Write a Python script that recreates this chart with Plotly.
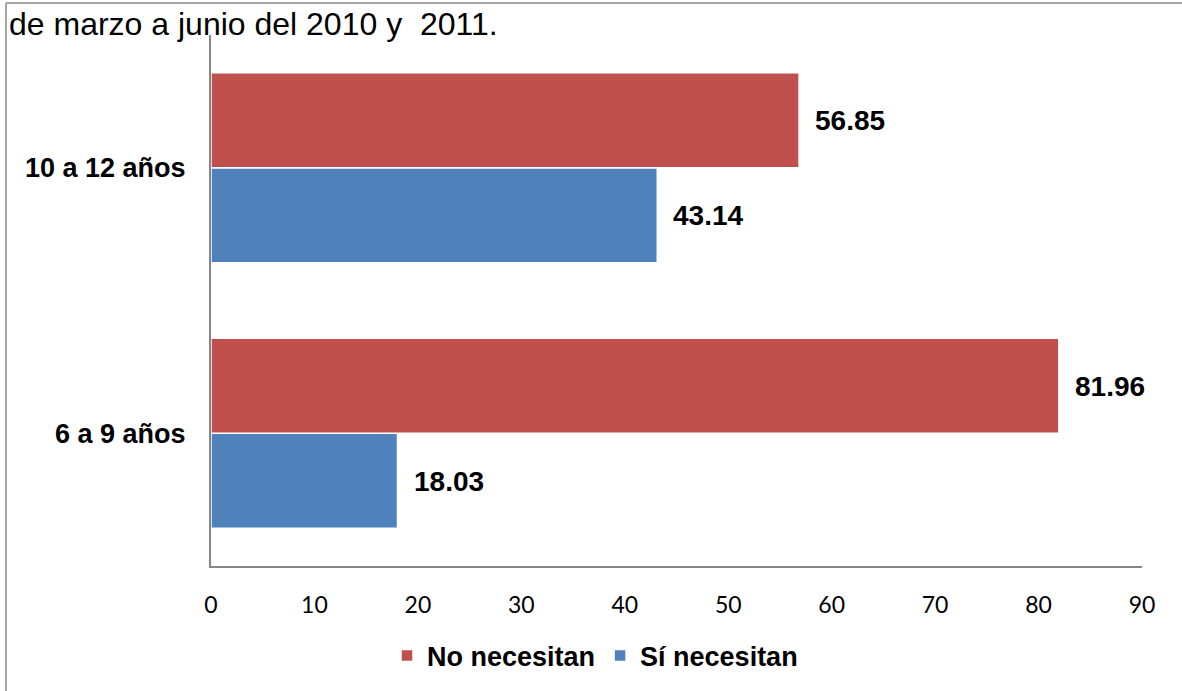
import plotly.graph_objects as go

# Age groups (bottom to top on the category axis)
age_groups = ["6 a 9 años", "10 a 12 años"]
no_necesitan = [81.96, 56.85]
si_necesitan = [18.03, 43.14]

title_text = "de marzo a junio del 2010 y&nbsp; 2011."
x_ticks = [0, 10, 20, 30, 40, 50, 60, 70, 80, 90]

RED = "#C0504D"
BLUE = "#4F81BD"
SANS = "Liberation Sans, Arial, sans-serif"
TICK_FONT = "Lato, Open Sans, sans-serif"

W, H = 1182, 691
L, R, T, B = 211, 40, 35, 125
plot_w = W - L - R
plot_h = H - T - B


def px_x(px):
    return (px - L) / plot_w


def px_y(py):
    return (H - B - py) / plot_h


bold = dict(family=SANS, size=27, color="black", weight="bold")
value_font = dict(family=SANS, size=28, color="black", weight="bold")

fig = go.Figure()

# Blue first so that red sits above it inside each group
fig.add_trace(go.Bar(
    name="Sí necesitan", y=age_groups, x=si_necesitan, orientation="h",
    marker=dict(color=BLUE, line=dict(color="white", width=1.5)),
    legendrank=2,
))
fig.add_trace(go.Bar(
    name="No necesitan", y=age_groups, x=no_necesitan, orientation="h",
    marker=dict(color=RED, line=dict(color="white", width=1.5)),
    legendrank=1,
))

# value labels beside each bar end
annotations = []
for cat, v in zip(age_groups, no_necesitan):
    annotations.append(dict(
        x=v, y=cat, xref="x", yref="y", text=f"{v:.2f}", showarrow=False,
        xanchor="left", yanchor="middle", xshift=14, yshift=47,
        font=value_font,
    ))
for cat, v in zip(age_groups, si_necesitan):
    annotations.append(dict(
        x=v, y=cat, xref="x", yref="y", text=f"{v:.2f}", showarrow=False,
        xanchor="left", yanchor="middle", xshift=14, yshift=-48,
        font=value_font,
    ))

# heading text, cut by the frame
annotations.append(dict(
    x=px_x(7), y=px_y(24), xref="paper", yref="paper", text=title_text,
    showarrow=False, xanchor="left", yanchor="middle",
    font=dict(family=SANS, size=32, color="black"),
))

frame_color = "#A6A6A6"
shapes = [
    dict(type="line", xref="paper", yref="paper",
         x0=px_x(6), x1=px_x(W), y0=px_y(3), y1=px_y(3),
         line=dict(color=frame_color, width=2)),
    dict(type="line", xref="paper", yref="paper",
         x0=px_x(6), x1=px_x(6), y0=px_y(3), y1=px_y(H),
         line=dict(color=frame_color, width=2)),
]

fig.update_layout(
    width=W, height=H,
    margin=dict(l=L, r=R, t=T, b=B),
    paper_bgcolor="white", plot_bgcolor="white",
    barmode="group", bargap=0.284, bargroupgap=0.0,
    showlegend=True,
    legend=dict(
        orientation="h", xref="container", yref="container",
        x=595 / W, xanchor="center", y=1 - 656 / H, yanchor="middle",
        font=bold, itemwidth=30, traceorder="normal",
    ),
    annotations=annotations,
    shapes=shapes,
    xaxis=dict(
        range=[0, 90], tickvals=x_ticks, showgrid=False, zeroline=False,
        showline=True, linecolor="#868686", linewidth=2,
        ticks="", ticklabelstandoff=17,
        tickfont=dict(family=TICK_FONT, size=23, color="black"),
        fixedrange=True,
    ),
    yaxis=dict(
        categoryorder="array", categoryarray=age_groups,
        showgrid=False, zeroline=False,
        showline=True, linecolor="#868686", linewidth=2,
        ticks="", ticklabelstandoff=18,
        tickfont=bold,
        fixedrange=True,
    ),
)

fig.write_html("out.html")
